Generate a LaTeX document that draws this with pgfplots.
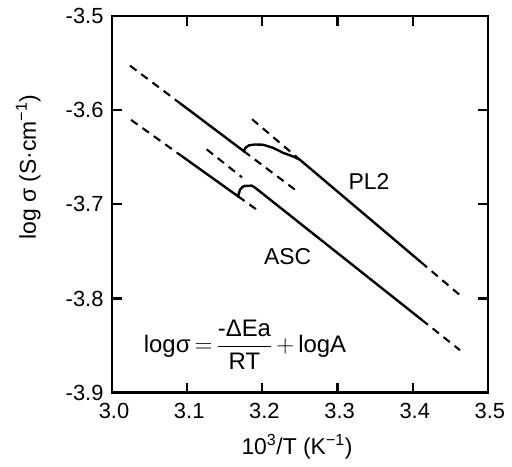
\documentclass[border=0pt]{standalone}
\usepackage{fontspec}
\setmainfont{Liberation Sans}
\usepackage{pgfplots}
\pgfplotsset{compat=1.18}

\begin{document}
\begin{tikzpicture}
\begin{axis}[
    width=376bp, height=377bp, scale only axis,
    xmin=3.0, xmax=3.5, ymin=-3.9, ymax=-3.5,
    xtick={3.0,3.1,3.2,3.3,3.4,3.5},
    xticklabels={3.0,3.1,3.2,3.3,3.4,3.5},
    ytick={-3.9,-3.8,-3.7,-3.6,-3.5},
    yticklabels={-3.9,-3.8,-3.7,-3.6,-3.5},
    tick align=inside,
    major tick length=10bp,
    axis line style={line width=2.6bp},
    every tick/.style={black, line width=2.2bp},
    ticklabel style={font=\fontsize{22}{24}\selectfont},
    xticklabel style={yshift=-7bp, xshift=2bp},
    yticklabel style={xshift=-5bp},
    xlabel={10\textsuperscript{3}/T (K\textsuperscript{−1})},
    ylabel={log σ (S·cm\textsuperscript{−1})},
    every axis x label/.style={at={(axis description cs:0.492,-0.143)}, anchor=center,
        font=\fontsize{23}{26}\selectfont},
    every axis y label/.style={at={(axis description cs:-0.223,0.598)}, anchor=center, rotate=90,
        font=\fontsize{23}{26}\selectfont},
    clip=false,
]
% extent of the picture
\draw[draw=none] (rel axis cs:-0.298,-0.196) rectangle (rel axis cs:1.064,1.042);

% PL2: high-T line and its extensions
\addplot[black, line width=2.1bp, dash pattern=on 8bp off 6bp] coordinates {(3.024,-3.5529) (3.0904,-3.5927)};
\addplot[black, line width=2.1bp, dash pattern=on 8bp off 6bp] coordinates {(3.175,-3.6435) (3.2434,-3.6845)};
% PL2: low-T line extensions
\addplot[black, line width=2.1bp, dash pattern=on 8bp off 6bp] coordinates {(3.1862,-3.6097) (3.25,-3.6528)};
\addplot[black, line width=2.1bp, dash pattern=on 8bp off 6bp] coordinates {(3.4109,-3.7614) (3.4641,-3.7973)};
% PL2 measured
\addplot[black, line width=2.4bp] coordinates {
    (3.0904,-3.5927) (3.177,-3.6447) (3.175,-3.6435) (3.1775,-3.6400) (3.182,-3.6375)
    (3.190,-3.6365) (3.201,-3.6368) (3.214,-3.6400) (3.228,-3.6455)
    (3.241,-3.6493) (3.250,-3.6528) (3.4109,-3.7614)
};

% ASC: high-T line and its extensions
\addplot[black, line width=2.1bp, dash pattern=on 8bp off 6bp] coordinates {(3.0253,-3.6104) (3.0918,-3.6483)};
\addplot[black, line width=2.1bp, dash pattern=on 8bp off 6bp] coordinates {(3.1676,-3.6915) (3.1928,-3.7059)};
% ASC: low-T line extensions
\addplot[black, line width=2.1bp, dash pattern=on 8bp off 6bp] coordinates {(3.1259,-3.6417) (3.1729,-3.6714)};
\addplot[black, line width=2.1bp, dash pattern=on 8bp off 6bp] coordinates {(3.4118,-3.8225) (3.4628,-3.8548)};
% ASC measured
\addplot[black, line width=2.4bp] coordinates {
    (3.0918,-3.6483) (3.1676,-3.6915) (3.1702,-3.6846) (3.1735,-3.6815)
    (3.1769,-3.6805) (3.1858,-3.6802) (3.1902,-3.6823) (3.4118,-3.8225)
};

\node[font=\fontsize{23}{26}\selectfont] at (axis cs:3.3418,-3.676) {PL2};
\node[font=\fontsize{23}{26}\selectfont] at (axis cs:3.2336,-3.7554) {ASC};
\node[font=\fontsize{24}{26}\selectfont] at (axis cs:3.1769,-3.849)
    {logσ$\,{=}\,\displaystyle\frac{\mbox{-ΔEa}}{\mbox{RT}}\,{+}\,$logA};
\end{axis}
\end{tikzpicture}
\end{document}
